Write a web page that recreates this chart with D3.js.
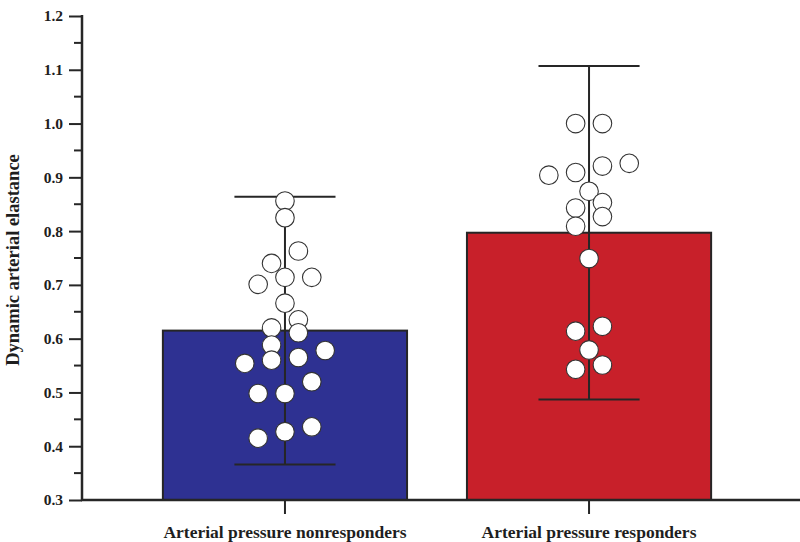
<!DOCTYPE html>
<html>
<head>
<meta charset="utf-8">
<script src="https://cdn.jsdelivr.net/npm/d3@7"></script>
<style>
  body { margin: 0; background: #fff; }
  svg { display: block; }
  text { font-family: "Liberation Serif", "Times New Roman", serif; font-weight: bold; fill: #1e1e1e; }
</style>
</head>
<body>
<svg width="800" height="542"></svg>
<script>
const categories = ['Arterial pressure nonresponders', 'Arterial pressure responders']
const means = [0.615, 0.797]
const sds = [0.249, 0.31]
const barColors = ['#2e3192', '#c8202a']
const yTicks = [0.3, 0.4, 0.5, 0.6, 0.7, 0.8, 0.9, 1.0, 1.1, 1.2]

// individual patients, slot = sideways dodge position
const nonresponderValues = [0.856, 0.825, 0.763, 0.740, 0.714, 0.701, 0.714, 0.666, 0.635, 0.620, 0.611,
  0.588, 0.560, 0.565, 0.578, 0.554, 0.520, 0.498, 0.498, 0.436, 0.427, 0.415]
const nonresponderSlots = [0, 0, 1, -1, 0, -2, 2, 0, 1, -1, 1, -1, -1, 1, 3, -3, 2, -2, 0, 2, 0, -2]
const responderValues = [1.000, 1.000, 0.904, 0.909, 0.921, 0.926, 0.874, 0.843, 0.853, 0.827, 0.809,
  0.749, 0.623, 0.614, 0.579, 0.551, 0.543]
const responderSlots = [-1, 1, -3, -1, 1, 3, 0, -1, 1, 1, -1, 0, 1, -1, 0, 1, -1]

const svg = d3.select('svg'),
    margin = {left: 82, right: 8, top: 16, bottom: 42},
    width = 800 - margin.left - margin.right,
    height = 542 - margin.top - margin.bottom,
    x = d3.scaleBand()
      .domain(categories)
      .range([0, width])
      .paddingInner(0.197)
      .paddingOuter(0.266),
    y = d3.scaleLinear().domain([0.3, 1.2]).range([height, 0]),
    r = 9.3,
    dodge = 13.4,
    chart = svg.append('g')
      .attr('transform', 'translate(' + margin.left + ',' + margin.top + ')')

const bars = categories.map((c, i) => ({cat: c, mean: means[i], sd: sds[i], color: barColors[i]}))
const points = nonresponderValues.map((v, i) => ({cat: categories[0], v: v, slot: nonresponderSlots[i]}))
  .concat(responderValues.map((v, i) => ({cat: categories[1], v: v, slot: responderSlots[i]})))

chart.selectAll('.bar')
  .data(bars)
  .enter().append('rect')
    .attr('class', 'bar')
    .attr('x', d => x(d.cat))
    .attr('y', d => y(d.mean))
    .attr('width', x.bandwidth())
    .attr('height', d => height - y(d.mean))
    .attr('fill', d => d.color)
    .attr('stroke', '#262626')
    .attr('stroke-width', 2)

const err = chart.selectAll('.err')
  .data(bars)
  .enter().append('g')
    .attr('class', 'err')
    .attr('transform', d => 'translate(' + (x(d.cat) + x.bandwidth() / 2) + ',0)')
    .attr('stroke', '#262626')
    .attr('stroke-width', 2)
const capW = x.bandwidth() * 0.207
err.append('line')
  .attr('y1', d => y(d.mean - d.sd))
  .attr('y2', d => y(d.mean + d.sd))
err.append('line')
  .attr('x1', -capW).attr('x2', capW)
  .attr('y1', d => y(d.mean + d.sd)).attr('y2', d => y(d.mean + d.sd))
err.append('line')
  .attr('x1', -capW).attr('x2', capW)
  .attr('y1', d => y(d.mean - d.sd)).attr('y2', d => y(d.mean - d.sd))

chart.selectAll('.pt')
  .data(points)
  .enter().append('circle')
    .attr('class', 'pt')
    .attr('cx', d => x(d.cat) + x.bandwidth() / 2 + d.slot * dodge)
    .attr('cy', d => y(d.v))
    .attr('r', r)
    .attr('fill', '#fff')
    .attr('stroke', '#333')
    .attr('stroke-width', 1.1)

// y axis with minor ticks
const minor = d3.range(0.35, 1.2, 0.1)
chart.append('g')
  .attr('stroke', '#262626').attr('stroke-width', 2)
  .selectAll('line')
  .data(minor)
  .enter().append('line')
    .attr('x1', -8).attr('x2', 0)
    .attr('y1', d => y(d)).attr('y2', d => y(d))

const yAxis = chart.append('g')
  .attr('class', 'axis axis--y')
  .call(d3.axisLeft(y).tickValues(yTicks).tickFormat(d3.format('.1f')).tickSize(13).tickPadding(6))
yAxis.select('.domain').remove()
yAxis.selectAll('line').attr('stroke', '#262626').attr('stroke-width', 2)
yAxis.selectAll('text').attr('font-size', 15.5).attr('font-family', null).attr('fill', '#1e1e1e')

chart.append('line')
  .attr('x1', 0).attr('x2', 0)
  .attr('y1', y(1.2) - 1).attr('y2', height + 1)
  .attr('stroke', '#262626').attr('stroke-width', 2.5)

const xAxis = chart.append('g')
  .attr('class', 'axis axis--x')
  .attr('transform', 'translate(0,' + height + ')')
  .call(d3.axisBottom(x).tickSize(14).tickPadding(12))
xAxis.select('.domain').remove()
xAxis.selectAll('line').attr('stroke', '#262626').attr('stroke-width', 2)
xAxis.selectAll('text').attr('font-size', 17.5).attr('font-family', null).attr('fill', '#1e1e1e')

chart.append('line')
  .attr('x1', -1).attr('x2', width + margin.right)
  .attr('y1', height).attr('y2', height)
  .attr('stroke', '#262626').attr('stroke-width', 2.5)

svg.append('text')
  .attr('transform', 'translate(19,' + (margin.top + height / 2 + 2) + ') rotate(-90)')
  .attr('text-anchor', 'middle')
  .attr('font-size', 18.5)
  .text('Dynamic arterial elastance')
</script>
</body>
</html>
